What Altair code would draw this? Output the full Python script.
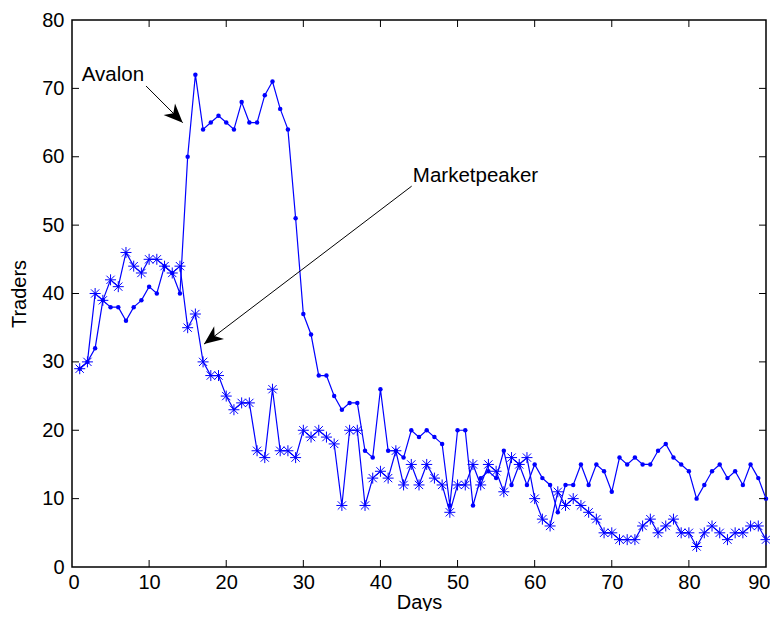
import altair as alt
import pandas as pd

days = list(range(1, 91))
avalon = [29, 30, 32, 39, 38, 38, 36, 38, 39, 41, 40, 44, 43, 40, 60, 72, 64, 65, 66, 65,
          64, 68, 65, 65, 69, 71, 67, 64, 51, 37, 34, 28, 28, 25, 23, 24, 24, 17, 16, 26,
          17, 17, 16, 20, 19, 20, 19, 18, 9, 20, 20, 9, 13, 14, 13, 17, 12, 15, 12, 15,
          13, 12, 8, 12, 12, 15, 12, 15, 14, 11, 16, 15, 16, 15, 15, 17, 18, 16, 15, 14,
          10, 12, 14, 15, 13, 14, 12, 15, 13, 10]
marketpeaker = [29, 30, 40, 39, 42, 41, 46, 44, 43, 45, 45, 44, 43, 44, 35, 37, 30, 28, 28, 25,
                23, 24, 24, 17, 16, 26, 17, 17, 16, 20, 19, 20, 19, 18, 9, 20, 20, 9, 13, 14,
                13, 17, 12, 15, 12, 15, 13, 12, 8, 12, 12, 15, 12, 15, 14, 11, 16, 15, 16, 10,
                7, 6, 11, 9, 10, 9, 8, 7, 5, 5, 4, 4, 4, 6, 7, 5, 6, 7, 5, 5,
                3, 5, 6, 5, 4, 5, 5, 6, 6, 4]
x_ticks = [0, 10, 20, 30, 40, 50, 60, 70, 80, 90]
y_ticks = [0, 10, 20, 30, 40, 50, 60, 70, 80]

# annotations (data coordinates)
labels = ["Avalon", "Marketpeaker"]
label_x = [1.27, 44.2]
label_y = [71.1, 56.35]
arrow_x = [9.6, 44.05]
arrow_y = [70.35, 55.7]
tip_x = [14.36, 17.12]
tip_y = [64.98, 32.6]
tip_angle = [135, 232.6]

W, H = 694, 547
BLUE = "#0000ff"
FONT = "Liberation Sans"

df = pd.DataFrame({
    "day": days * 2,
    "traders": avalon + marketpeaker,
    "series": ["Avalon"] * len(avalon) + ["Marketpeaker"] * len(marketpeaker),
})

xs = alt.Scale(domain=[0, 90], nice=False, zero=False)
ys = alt.Scale(domain=[0, 80], nice=False, zero=False)
x_axis = alt.Axis(values=x_ticks, title="Days", ticks=False, tickSize=0,
                  domain=False, grid=False, labelPadding=5, titlePadding=0,
                  labelFlush=True, labelFlushOffset=4)
y_axis = alt.Axis(values=y_ticks, title="Traders", ticks=False, tickSize=0,
                  domain=False, grid=False, labelPadding=8, titlePadding=12)


def xe(field):
    return alt.X(field, scale=xs, axis=x_axis)


def ye(field):
    return alt.Y(field, scale=ys, axis=y_axis)


lines = alt.Chart(df).mark_line(color=BLUE, strokeWidth=1.2).encode(
    x=xe("day:Q"), y=ye("traders:Q"), detail="series:N")

dots = alt.Chart(df[df.series == "Avalon"]).mark_point(
    shape="circle", filled=True, size=20, color=BLUE, opacity=1
).encode(x=xe("day:Q"), y=ye("traders:Q"))

STAR = "M-1,0L1,0M0,-1L0,1M-0.75,-0.75L0.75,0.75M-0.75,0.75L0.75,-0.75"
stars = alt.Chart(df[df.series == "Marketpeaker"]).mark_point(
    shape=STAR, filled=False, size=121, stroke=BLUE, strokeWidth=1, opacity=1
).encode(x=xe("day:Q"), y=ye("traders:Q"))

# inward ticks on all four sides
xt = pd.DataFrame({"t": x_ticks[1:-1]})
yt = pd.DataFrame({"t": y_ticks[1:-1]})
tick_style = dict(color="black", strokeWidth=1)
ticks = [
    alt.Chart(xt).mark_rule(**tick_style).encode(x=xe("t:Q"), y=alt.value(H), y2=alt.value(H - 7)),
    alt.Chart(xt).mark_rule(**tick_style).encode(x=xe("t:Q"), y=alt.value(0), y2=alt.value(7)),
    alt.Chart(yt).mark_rule(**tick_style).encode(y=ye("t:Q"), x=alt.value(0), x2=alt.value(7)),
    alt.Chart(yt).mark_rule(**tick_style).encode(y=ye("t:Q"), x=alt.value(W), x2=alt.value(W - 7)),
]

ann = pd.DataFrame({
    "label": labels, "lx": label_x, "ly": label_y,
    "ax": arrow_x, "ay": arrow_y, "tx": tip_x, "ty": tip_y, "ang": tip_angle,
})

texts = alt.Chart(ann).mark_text(
    align="left", baseline="alphabetic", font=FONT, fontSize=20.5, color="black"
).encode(x=xe("lx:Q"), y=ye("ly:Q"), text="label:N")

arrows = alt.Chart(ann).mark_rule(color="black", strokeWidth=1).encode(
    x=xe("ax:Q"), y=ye("ay:Q"), x2="tx:Q", y2="ty:Q",
)

HEAD = "M0,0L-0.85,2L0,1.4L0.85,2Z"
heads = alt.Chart(ann).mark_point(
    shape=HEAD, filled=True, size=361, color="black", opacity=1, strokeWidth=0
).encode(
    x=xe("tx:Q"), y=ye("ty:Q"),
    angle=alt.Angle("ang:Q", scale=None),
)

chart = alt.layer(lines, dots, stars, *ticks, arrows, heads, texts).properties(
    width=W, height=H,
    background="white",
    autosize=alt.AutoSizeParams(type="none"),
    padding={"left": 64, "top": 12, "right": 4, "bottom": 44},
).configure_view(
    stroke="black", strokeWidth=1.5
).configure_axis(
    labelFont=FONT, titleFont=FONT, labelFontSize=20, titleFontSize=20,
    titleFontWeight="normal", labelColor="black", titleColor="black",
)

chart.save("out.html", embed_options={"renderer": "svg", "actions": False})
